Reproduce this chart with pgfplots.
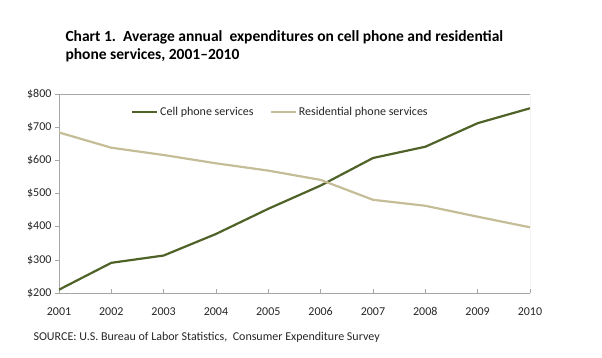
\documentclass[border=0pt]{standalone}
\usepackage{pgfplots}
\pgfplotsset{compat=1.18}
\usepackage{fontspec}
\setmainfont{Carlito}
\definecolor{cellc}{HTML}{4F6228}
\definecolor{resc}{HTML}{C4BD97}
\definecolor{axgray}{HTML}{A6A6A6}
\begin{document}
\begin{tikzpicture}
\path[use as bounding box] (-59pt,-65pt) rectangle (543pt,293pt);
\begin{axis}[
  at={(0,0)}, anchor=south west,
  scale only axis, width=471pt, height=199pt,
  xmin=2001, xmax=2010, ymin=200, ymax=800,
  xtick={2001,...,2010}, ytick={200,300,...,800},
  /pgf/number format/assume math mode=true,
  xticklabel style={/pgf/number format/1000 sep={}, font=\fontsize{12}{14}\selectfont, color=black!85, yshift=-11pt},
  yticklabel={\$\pgfmathprintnumber{\tick}},
  yticklabel style={font=\fontsize{12}{14}\selectfont, color=black!85, xshift=0pt},
  axis line style={axgray, line width=0.8pt},
  tick style={axgray, line width=0.6pt},
  xtick align=inside, ytick align=outside,
  major tick length=4pt,
  axis x line*=bottom, axis y line*=left,
  legend columns=2,
  legend style={draw=none, fill=none, at={(0.47,0.91)}, anchor=center,
    font=\fontsize{12}{14}\selectfont, text=black!85,
    /tikz/every even column/.append style={column sep=14pt}},
  legend image code/.code={\draw[#1] (0pt,0pt) -- (25pt,0pt);},
]
\draw[axgray, line width=0.8pt] (rel axis cs:0,1) -- (rel axis cs:1,1) -- (rel axis cs:1,0);
\addplot[cellc, line width=2.2pt] coordinates {
 (2001,210) (2002,291) (2003,313) (2004,378) (2005,454)
 (2006,524) (2007,607) (2008,641) (2009,712) (2010,757)};
\addlegendentry{Cell phone services}
\addplot[resc, line width=2.2pt] coordinates {
 (2001,684) (2002,638) (2003,616) (2004,591) (2005,569)
 (2006,541) (2007,481) (2008,463) (2009,430) (2010,398)};
\addlegendentry{Residential phone services}
\end{axis}
\node[anchor=base west, font=\fontsize{15.5}{18}\selectfont\bfseries] at (3pt,251pt) {Chart 1.\ \ Average annual\ \ expenditures on cell phone and residential};
\node[anchor=base west, font=\fontsize{15.5}{18}\selectfont\bfseries] at (3pt,233pt) {phone services, 2001--2010};
\node[anchor=base west, font=\fontsize{12}{14}\selectfont, text=black!85] at (-29pt,-48pt) {SOURCE: U.S. Bureau of Labor Statistics,\ \ Consumer Expenditure Survey};
\end{tikzpicture}
\end{document}
